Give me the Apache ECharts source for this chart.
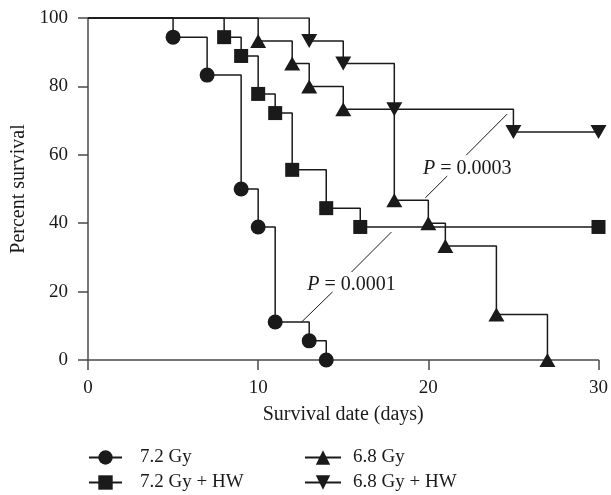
<!DOCTYPE html>
<html>
<head>
<meta charset="utf-8">
<script src="https://cdn.jsdelivr.net/npm/echarts@6/dist/echarts.min.js"></script>
<style>
  html, body { margin: 0; padding: 0; background: #fff; }
  #chart { width: 611px; height: 495px; }
</style>
</head>
<body>
<div id="chart"></div>
<script>
// Kaplan-Meier steps: day of each drop and survival after it (first point = start at 100)
const gy72Days = [0, 5, 7, 9, 10, 11, 13, 14];
const gy72Surv = [100, 94.4, 83.3, 50, 38.9, 11.1, 5.6, 0];

const gy72hwDays = [0, 8, 9, 10, 11, 12, 14, 16, 30];
const gy72hwSurv = [100, 94.4, 88.9, 77.8, 72.2, 55.6, 44.4, 38.9, 38.9];

const gy68Days = [0, 10, 12, 13, 15, 18, 20, 21, 24, 27];
const gy68Surv = [100, 93.3, 86.7, 80, 73.3, 46.7, 40, 33.3, 13.3, 0];

const gy68hwDays = [0, 13, 15, 18, 25, 30];
const gy68hwSurv = [100, 93.3, 86.7, 73.3, 66.7, 66.7];

const seriesNames = ['7.2 Gy', '7.2 Gy + HW', '6.8 Gy', '6.8 Gy + HW'];

// p-value annotations: leader segments (in axis units) and label anchors
const pTexts = ['0.0001', '0.0003'];
const pLabelPos = [[15.48, 22.0], [22.29, 55.9]];
const pSegments = [
  [[17.83, 37.4], [15.48, 25.7]],
  [[14.37, 19.9], [12.55, 11.1]],
  [[24.63, 71.9], [22.23, 59.9]],
  [[21.11, 53.8], [19.82, 47.4]]
];

const xTicks = [0, 10, 20, 30];
const yTicks = [0, 20, 40, 60, 80, 100];

const FONT = 'Liberation Serif';
const INK = '#1a1a1a';

function kmData(days, surv) {
  return days.map((d, i) => i === 0
    ? { value: [d, surv[i]], symbol: 'none' }
    : [d, surv[i]]);
}

function kmSeries(name, days, surv, symbol, size, rotate) {
  return {
    name,
    type: 'line',
    step: 'end',
    data: kmData(days, surv),
    symbol,
    symbolSize: size,
    symbolRotate: rotate || 0,
    showSymbol: true,
    lineStyle: { color: INK, width: 1.5 },
    itemStyle: { color: INK },
    emphasis: { disabled: true },
    animation: false
  };
}

const series = [
  kmSeries(seriesNames[0], gy72Days, gy72Surv, 'circle', 15),
  kmSeries(seriesNames[1], gy72hwDays, gy72hwSurv, 'rect', 14),
  kmSeries(seriesNames[2], gy68Days, gy68Surv, 'triangle', [16, 14]),
  kmSeries(seriesNames[3], gy68hwDays, gy68hwSurv, 'triangle', [16, 14], 180)
];

pSegments.forEach(seg => {
  series.push({
    type: 'line',
    data: seg,
    symbol: 'none',
    lineStyle: { color: INK, width: 1 },
    silent: true,
    animation: false
  });
});

const axisLine = { show: true, lineStyle: { color: '#4a4a4a', width: 1.5 } };
const axisTick = { show: true, length: 10, lineStyle: { color: '#4a4a4a', width: 1.5 } };
const axisLabelStyle = { fontFamily: FONT, fontSize: 19, color: INK };

// one legend per entry so each can be placed on the two-column layout
const legendLeft = [88, 88, 304, 304];
const legendTop = [448, 473, 448, 473];
const legendIconW = [33, 33, 36, 36];
const legendTextPad = [13, 13, 7, 7];
const legends = seriesNames.map((n, i) => ({
  data: [n],
  left: legendLeft[i],
  top: legendTop[i],
  padding: 0,
  itemWidth: legendIconW[i],
  itemHeight: 18,
  selectedMode: false,
  textStyle: {
    fontFamily: FONT, fontSize: 19, color: INK,
    lineHeight: 18, padding: [0, 0, 0, legendTextPad[i]]
  }
}));

const option = {
  backgroundColor: '#fff',
  animation: false,
  grid: { left: 88, right: 11, top: 18, bottom: 135 },
  xAxis: {
    type: 'value',
    min: xTicks[0],
    max: xTicks[xTicks.length - 1],
    interval: 10,
    name: 'Survival date (days)',
    nameLocation: 'middle',
    nameGap: 45,
    nameTextStyle: { fontFamily: FONT, fontSize: 20, color: INK },
    axisLine,
    axisTick,
    splitLine: { show: false },
    axisLabel: { ...axisLabelStyle, margin: 19 }
  },
  yAxis: {
    type: 'value',
    min: yTicks[0],
    max: yTicks[yTicks.length - 1],
    interval: 20,
    name: 'Percent survival',
    nameLocation: 'middle',
    nameGap: 55,
    nameTextStyle: { fontFamily: FONT, fontSize: 20, color: INK },
    axisLine,
    axisTick,
    splitLine: { show: false },
    axisLabel: { ...axisLabelStyle, margin: 20 }
  },
  legend: legends,
  series
};

const chart = echarts.init(document.getElementById('chart'), null, { renderer: 'canvas' });
chart.setOption(option);

// p-value texts placed at axis coordinates
chart.setOption({
  graphic: pLabelPos.map((p, i) => {
    const px = chart.convertToPixel({ gridIndex: 0 }, p);
    return {
      type: 'text',
      x: px[0],
      y: px[1],
      silent: true,
      style: {
        text: '{i|P} = {n|' + pTexts[i] + '}',
        align: 'center',
        verticalAlign: 'middle',
        fill: INK,
        rich: {
          i: { fontFamily: FONT, fontStyle: 'italic', fontSize: 20, fill: INK },
          n: { fontFamily: FONT, fontSize: 20, fill: INK }
        },
        font: '20px "' + FONT + '"'
      }
    };
  })
});
</script>
</body>
</html>
